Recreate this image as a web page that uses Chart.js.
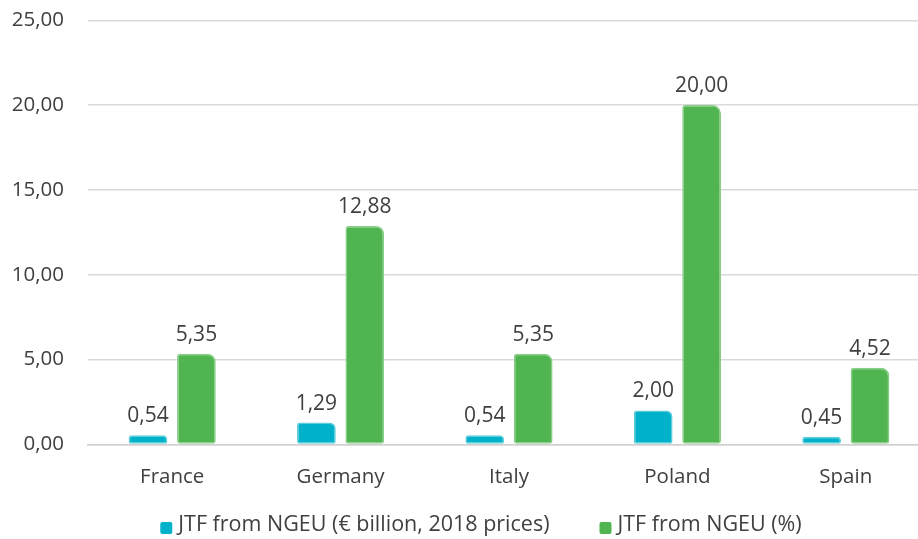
<!DOCTYPE html>
<html>
<head>
<meta charset="utf-8">
<script src="https://cdn.jsdelivr.net/npm/chart.js@4/dist/chart.umd.min.js"></script>
<style>
html,body{margin:0;padding:0;background:#fff;overflow:hidden;width:918px;height:539px;}
#wrap{position:absolute;left:0;top:-16px;width:932px;height:555px;}
</style>
</head>
<body>
<div id="wrap"><canvas id="c" width="932" height="555"></canvas></div>
<script>
const categories = ["France", "Germany", "Italy", "Poland", "Spain"];
const seriesNames = ["JTF from NGEU (€ billion, 2018 prices)", "JTF from NGEU (%)"];
const billionValues = [0.54, 1.29, 0.54, 2.00, 0.45];
const percentValues = [5.35, 12.88, 5.35, 20.00, 4.52];
const yTicks = [0, 5, 10, 15, 20, 25];

const FONT = "'Open Sans', sans-serif";
const TEXT = '#404040';
const fmt = v => v.toFixed(2).replace('.', ',');

const labelPlugin = {
  id: 'valueLabels',
  afterDatasetsDraw(chart) {
    const ctx = chart.ctx;
    ctx.save();
    ctx.font = "21px " + FONT;
    ctx.fillStyle = TEXT;
    ctx.textAlign = 'center';
    ctx.textBaseline = 'alphabetic';
    chart.data.datasets.forEach((ds, i) => {
      chart.getDatasetMeta(i).data.forEach((bar, j) => {
        ctx.fillText(fmt(ds.data[j]), bar.x, bar.y - 13);
      });
    });
    ctx.restore();
  }
};

const legendPlugin = {
  id: 'customLegend',
  afterDraw(chart) {
    const ctx = chart.ctx;
    ctx.save();
    ctx.font = "21.5px " + FONT;
    ctx.textBaseline = 'middle';
    ctx.textAlign = 'left';
    const box = 12, gapBox = 6, gapItem = 50;
    const items = chart.data.datasets.map(ds => ({text: ds.label, color: ds.backgroundColor, w: ctx.measureText(ds.label).width}));
    let total = 0;
    items.forEach((it, i) => { total += box + gapBox + it.w + (i ? gapItem : 0); });
    let x = 481 - total / 2;
    const y = 541;
    items.forEach((it, i) => {
      if (i) x += gapItem;
      ctx.fillStyle = it.color;
      ctx.beginPath();
      ctx.roundRect(x, y - box / 2 + 3, box, box, 2);
      ctx.fill();
      x += box + gapBox;
      ctx.fillStyle = TEXT;
      ctx.fillText(it.text, x, y);
      x += it.w;
    });
    ctx.restore();
  }
};

new Chart(document.getElementById('c'), {
  type: 'bar',
  data: {
    labels: categories,
    datasets: [
      {
        label: seriesNames[0],
        data: billionValues,
        backgroundColor: '#00B2C9',
        borderColor: '#5CCCDB',
        borderWidth: 1.5,
        borderSkipped: false,
        borderRadius: {topLeft: 3, topRight: 6, bottomLeft: 2, bottomRight: 2},
        categoryPercentage: 0.575,
        barPercentage: 0.8
      },
      {
        label: seriesNames[1],
        data: percentValues,
        backgroundColor: '#50B450',
        borderColor: '#86CE86',
        borderWidth: 1.5,
        borderSkipped: false,
        borderRadius: {topLeft: 3, topRight: 8, bottomLeft: 3, bottomRight: 3},
        categoryPercentage: 0.575,
        barPercentage: 0.8
      }
    ]
  },
  options: {
    responsive: false,
    animation: false,
    devicePixelRatio: 1,
    layout: {padding: {top: 7, left: 0, right: 2, bottom: 38}},
    plugins: {
      legend: {display: false},
      tooltip: {enabled: false}
    },
    scales: {
      x: {
        grid: {display: false},
        border: {display: true, color: '#D0D0D0', width: 1.5},
        ticks: {font: {family: FONT, size: 20.5}, color: TEXT, padding: 12}
      },
      y: {
        min: 0,
        max: 25,
        afterBuildTicks(axis) { axis.ticks = yTicks.map(v => ({value: v})); },
        afterFit(axis) { axis.width = 88; },
        grid: {color: '#D9D9D9', lineWidth: 1.5, drawTicks: false},
        border: {display: false},
        ticks: {
          font: {family: FONT, size: 20.5},
          color: TEXT,
          padding: 24,
          callback: v => fmt(v)
        }
      }
    }
  },
  plugins: [labelPlugin, legendPlugin]
});
</script>
</body>
</html>
